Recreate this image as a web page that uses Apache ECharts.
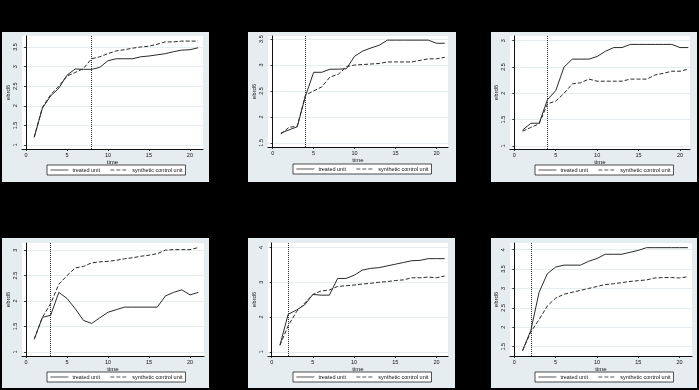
<!DOCTYPE html>
<html>
<head>
<meta charset="utf-8">
<script src="https://cdn.jsdelivr.net/npm/echarts@6/dist/echarts.min.js"></script>
<style>
html,body{margin:0;padding:0;background:#000;}
#main{width:699px;height:390px;}
</style>
</head>
<body>
<div id="main"></div>
<script>
// ---- data ----
const time = [1,2,3,4,5,6,7,8,9,10,11,12,13,14,15,16,17,18,19,20,21];
const xTicks = [0,5,10,15,20];
const seriesNames = ['treated unit', 'synthetic control unit'];
const yTitle = 'ebrd6';
const xTitle = 'time';

const treated1 = [1.2,1.94,2.25,2.45,2.78,2.94,2.93,2.93,2.98,3.15,3.2,3.2,3.2,3.25,3.27,3.3,3.33,3.38,3.42,3.43,3.48];
const synth1   = [1.2,1.96,2.28,2.5,2.76,2.85,2.95,3.2,3.25,3.33,3.4,3.43,3.47,3.5,3.52,3.57,3.63,3.63,3.65,3.65,3.65];
const treated2 = [1.69,1.75,1.81,2.4,2.86,2.86,2.92,2.92,2.93,3.17,3.27,3.33,3.38,3.48,3.48,3.48,3.48,3.48,3.48,3.42,3.42];
const synth2   = [1.67,1.8,1.82,2.42,2.5,2.58,2.77,2.82,2.97,3.0,3.01,3.02,3.03,3.06,3.06,3.06,3.06,3.09,3.12,3.12,3.15];
const treated3 = [1.3,1.43,1.43,1.88,2.05,2.5,2.65,2.65,2.65,2.7,2.8,2.87,2.87,2.93,2.93,2.93,2.93,2.93,2.93,2.87,2.87];
const synth3   = [1.28,1.35,1.42,1.8,1.85,2.0,2.18,2.2,2.27,2.23,2.23,2.23,2.23,2.27,2.27,2.27,2.35,2.38,2.42,2.42,2.46];
const treated4 = [1.25,1.68,1.72,2.17,2.05,1.85,1.62,1.56,1.67,1.78,1.83,1.88,1.88,1.88,1.88,1.88,2.1,2.17,2.22,2.12,2.17];
const synth4   = [1.25,1.68,1.95,2.33,2.5,2.65,2.68,2.75,2.77,2.78,2.8,2.83,2.85,2.88,2.9,2.93,3.0,3.01,3.01,3.01,3.05];
const treated5 = [1.19,2.08,2.2,2.35,2.65,2.63,2.63,3.11,3.11,3.2,3.35,3.4,3.42,3.47,3.52,3.57,3.62,3.63,3.68,3.68,3.68];
const synth5   = [1.19,1.75,2.15,2.4,2.65,2.75,2.78,2.88,2.9,2.92,2.95,2.97,3.0,3.02,3.05,3.07,3.13,3.13,3.15,3.13,3.18];
const treated6 = [1.4,1.92,2.9,3.38,3.55,3.6,3.6,3.6,3.7,3.77,3.88,3.88,3.88,3.93,3.98,4.05,4.05,4.05,4.05,4.05,4.05];
const synth6   = [1.4,1.88,2.2,2.55,2.75,2.85,2.9,2.95,3.0,3.05,3.1,3.12,3.15,3.18,3.2,3.22,3.27,3.28,3.28,3.27,3.3];

const yTicks1 = [1,1.5,2,2.5,3,3.5];
const yTicks2 = [1.5,2,2.5,3,3.5];
const yTicks3 = [1,1.5,2,2.5,3];
const yTicks4 = [1,1.5,2,2.5,3];
const yTicks5 = [1,2,3,4];
const yTicks6 = [1.5,2,2.5,3,3.5,4];

const interventions = [8,4,4,3,2,2];

const treatedAll = [treated1,treated2,treated3,treated4,treated5,treated6];
const synthAll = [synth1,synth2,synth3,synth4,synth5,synth6];
const yTicksAll = [yTicks1,yTicks2,yTicks3,yTicks4,yTicks5,yTicks6];

// ---- layout (positions / ranges) ----
const layout = [
  {box:[2,32,207,150],   grid:[22,36,181,113],  y:[0.9,3.78],  x:[-0.49,21.6], leg:[47,165]},
  {box:[248,32,208,150], grid:[268,36,180,111], y:[1.42,3.56], x:[-0.57,21.4], leg:[293,164]},
  {box:[491,32,206,150], grid:[510,36,180,113], y:[0.94,3.09], x:[-0.52,21.2], leg:[535,165]},
  {box:[2,238,207,150],  grid:[22,243,182,113], y:[0.92,3.14], x:[-0.49,21.7], leg:[47,372]},
  {box:[248,238,207,150],grid:[268,243,180,113],y:[0.88,4.13], x:[-0.45,21.4], leg:[293,372]},
  {box:[491,238,206,150],grid:[510,243,182,113],y:[1.26,4.17], x:[-0.52,21.5], leg:[535,372]}
];

const FONT = 'Liberation Sans';
const FS = 5.5;
const ink = '#111';
const lineInk = '#2a2a2a';

const grids = [], xAxes = [], yAxes = [], series = [], legends = [], graphics = [];
layout.forEach((L, i) => {
  graphics.push({type:'rect', z:-10, silent:true,
    shape:{x:L.box[0], y:L.box[1], width:L.box[2], height:L.box[3]},
    style:{fill:'#e6edf0'}});
  grids.push({left:L.grid[0], top:L.grid[1], width:L.grid[2], height:L.grid[3],
    show:true, backgroundColor:'#fff', borderWidth:0, containLabel:false});
  xAxes.push({type:'value', gridIndex:i, min:L.x[0], max:L.x[1],
    name:xTitle, nameLocation:'middle', nameGap:6,
    nameTextStyle:{fontFamily:FONT, fontSize:FS+0.5, color:ink},
    axisLine:{show:true, onZero:false, lineStyle:{color:ink, width:1}},
    axisTick:{show:true, length:2, customValues:xTicks, lineStyle:{color:ink, width:0.8}},
    axisLabel:{customValues:xTicks, fontFamily:FONT, fontSize:FS, color:ink, margin:3},
    splitLine:{show:false}});
  yAxes.push({type:'value', gridIndex:i, min:L.y[0], max:L.y[1],
    name:yTitle, nameLocation:'middle', nameGap:10, nameRotate:90,
    nameTextStyle:{fontFamily:FONT, fontSize:FS+0.5, color:ink},
    axisLine:{show:true, lineStyle:{color:ink, width:1}},
    axisTick:{show:true, length:2, customValues:yTicksAll[i], lineStyle:{color:ink, width:0.8}},
    axisLabel:{customValues:yTicksAll[i], rotate:90, fontFamily:FONT, fontSize:FS, color:ink, margin:4},
    splitLine:{show:true, lineStyle:{color:'#e6edf0', width:1}}});
  const pts = (arr) => time.map((t, k) => [t, arr[k]]);
  series.push({name:seriesNames[0], type:'line', xAxisIndex:i, yAxisIndex:i,
    data:pts(treatedAll[i]), symbol:'none', silent:true, animation:false,
    lineStyle:{color:lineInk, width:1, type:'solid'}, itemStyle:{color:lineInk},
    markLine:{silent:true, symbol:'none', label:{show:false}, animation:false,
      lineStyle:{color:lineInk, width:1, type:'dotted'},
      data:[{xAxis:interventions[i]}]}});
  series.push({name:seriesNames[1], type:'line', xAxisIndex:i, yAxisIndex:i,
    data:pts(synthAll[i]), symbol:'none', silent:true, animation:false,
    lineStyle:{color:lineInk, width:1, type:[4,2]}, itemStyle:{color:lineInk}});
  legends.push({left:L.leg[0], top:L.leg[1], orient:'horizontal',
    data:seriesNames, selectedMode:false,
    itemWidth:18, itemHeight:6, itemGap:10,
    itemStyle:{opacity:0},
    lineStyle:{width:0.8, color:lineInk},
    padding:[2,3,2,3], backgroundColor:'#fff', borderColor:'#222', borderWidth:0.8,
    textStyle:{fontFamily:FONT, fontSize:FS, color:ink, padding:[0,0,0,-1]}});
});

const chart = echarts.init(document.getElementById('main'), null, {renderer:'canvas'});
chart.setOption({
  backgroundColor:'#000',
  animation:false,
  grid:grids, xAxis:xAxes, yAxis:yAxes, series:series, legend:legends,
  graphic:{elements:graphics}
});
</script>
</body>
</html>
